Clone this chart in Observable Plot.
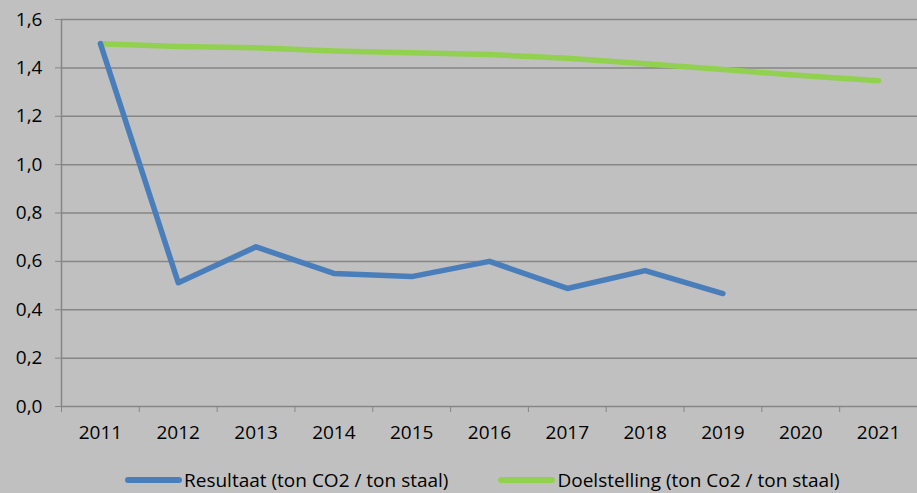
<!DOCTYPE html>
<html>
<head>
<meta charset="utf-8">
<script src="https://cdn.jsdelivr.net/npm/d3@7"></script>
<script src="https://cdn.jsdelivr.net/npm/@observablehq/plot@0.6"></script>
<style>
  html, body { margin: 0; padding: 0; background: #c0c0c0; }
  body { width: 917px; height: 493px; overflow: hidden; font-family: "Open Sans", sans-serif; }
  #legend { display: flex; justify-content: flex-start; gap: 0; font-size: 19px; color: #000; margin-top: 16px; line-height: 24px; }
  .item { display: flex; align-items: center; white-space: nowrap; }
  .sw { display: inline-block; width: 57px; height: 6px; border-radius: 3px; margin-right: 2px; }
</style>
</head>
<body>
<div id="chart"></div>
<div id="legend"></div>
<script>
const years = [2011, 2012, 2013, 2014, 2015, 2016, 2017, 2018, 2019, 2020, 2021];
const resultaat = [1.50, 0.512, 0.66, 0.55, 0.537, 0.60, 0.488, 0.562, 0.467];
const doelstelling = [1.50, 1.488, 1.483, 1.47, 1.463, 1.455, 1.44, 1.417, 1.393, 1.368, 1.347];
const yTicks = [0, 0.2, 0.4, 0.6, 0.8, 1.0, 1.2, 1.4, 1.6];
const seriesNames = ["Resultaat (ton CO2 / ton staal)", "Doelstelling (ton Co2 / ton staal)"];
const colors = ["#4a7ebb", "#92d050"];

const resData = resultaat.map((v, i) => ({year: years[i], value: v}));
const doelData = doelstelling.map((v, i) => ({year: years[i], value: v}));
const edges = [years[0] - 0.5, ...years.map(y => y + 0.5)];
const fmt = d => d.toFixed(1).replace(".", ",");

const chart = Plot.plot({
  width: 917,
  height: 452,
  marginTop: 19,
  marginBottom: 46,
  marginLeft: 61,
  marginRight: 0,
  style: {background: "#c0c0c0", fontFamily: "'Open Sans', sans-serif", fontSize: "19px", color: "#000"},
  x: {type: "linear", domain: [edges[0], edges[edges.length - 1]]},
  y: {domain: [0, 1.6]},
  marks: [
    Plot.gridY(yTicks, {stroke: "#868686", strokeOpacity: 1, strokeWidth: 1.5}),
    Plot.ruleX([edges[0]], {stroke: "#868686", strokeWidth: 1.5}),
    Plot.axisY(yTicks, {tickFormat: fmt, tickSize: 6, tickPadding: 13, stroke: "#868686", fill: "#000", label: null}),
    Plot.axisX(edges, {tickFormat: () => "", tickSize: 6, stroke: "#868686", label: null}),
    Plot.axisX(years, {tickFormat: d => String(d), tickSize: 0, tickPadding: 19, fill: "#000", label: null}),
    Plot.line(doelData, {x: "year", y: "value", stroke: colors[1], strokeWidth: 5.5, strokeLinecap: "round", strokeLinejoin: "round"}),
    Plot.line(resData, {x: "year", y: "value", stroke: colors[0], strokeWidth: 5.5, strokeLinecap: "round", strokeLinejoin: "round"})
  ]
});
document.getElementById("chart").appendChild(chart);

const legend = document.getElementById("legend");
legend.style.paddingLeft = "125px";
seriesNames.forEach((name, i) => {
  const item = document.createElement("div");
  item.className = "item";
  if (i > 0) item.style.marginLeft = "50px";
  const sw = document.createElement("span");
  sw.className = "sw";
  sw.style.background = colors[i];
  const t = document.createElement("span");
  t.textContent = name;
  item.appendChild(sw);
  item.appendChild(t);
  legend.appendChild(item);
});
</script>
</body>
</html>
